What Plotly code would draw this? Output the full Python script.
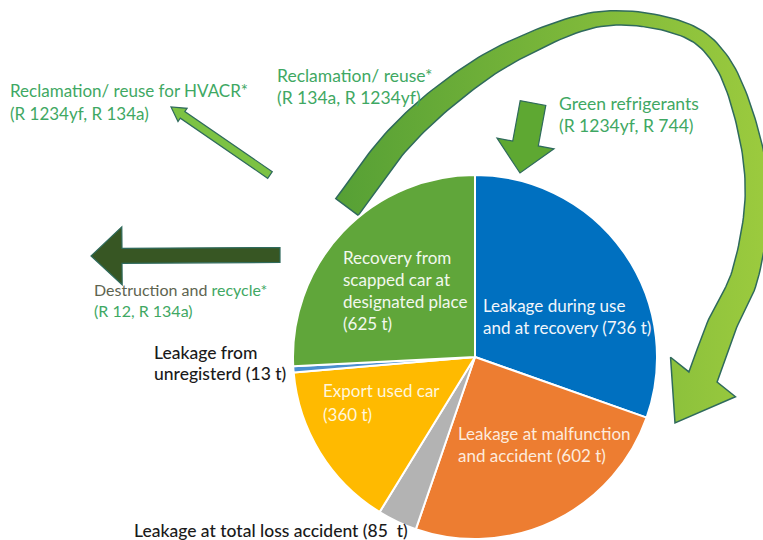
import numpy as np
import plotly.graph_objects as go

W, H = 763, 540

# ---------------- data ----------------
slice_names = ["Leakage during use and at recovery", "Leakage at malfunction and accident",
               "Leakage at total loss accident", "Export used car",
               "Leakage from unregisterd", "Recovery from scapped car at designated place"]
slice_values = [736, 602, 85, 360, 13, 625]
slice_colors = ["#0070C0", "#ED7D31", "#B3B3B3", "#FFBA00", "#4A8FD0", "#60A63A"]

flow_labels = ["Reclamation/ reuse for HVACR*", "Reclamation/ reuse*", "Green refrigerants",
               "Destruction and", "recycle*"]
flow_refrigerants = ["(R 1234yf, R 134a)", "(R 134a, R 1234yf)", "(R 1234yf, R 744)", "(R 12, R 134a)"]

FONT = "Lato"
GREEN_TXT = "#3FA863"
OUTLINE = "#2F6A5C"

fig = go.Figure()

# ---------------- pie ----------------
cx, cy, r = 475, 357, 182
fig.add_trace(go.Pie(
    labels=slice_names, values=slice_values, sort=False, direction="clockwise", rotation=0,
    marker=dict(colors=slice_colors, line=dict(color="white", width=2)),
    textinfo="none", hoverinfo="label+value", showlegend=False,
    domain=dict(x=[(cx - r) / W, (cx + r) / W], y=[(H - cy - r) / H, (H - cy + r) / H]),
))

# ---------------- curved arrow (geometry) ----------------
center = [(347, 207, 28), (395, 143, 27), (450, 92, 25), (515, 50, 21), (600, 19, 15),
          (680, 28, 14), (722, 62, 16), (748, 130, 20), (757, 200, 24), (745, 275, 27),
          (722, 325, 29), (703, 377, 30)]
head_tip = (675, 423)
head_half = 38


def catmull(points, n=16):
    P = np.array(points, float)
    P = np.vstack([2 * P[0] - P[1], P, 2 * P[-1] - P[-2]])
    out = []
    for i in range(1, len(P) - 2):
        p0, p1, p2, p3 = P[i - 1], P[i], P[i + 1], P[i + 2]
        for t in np.linspace(0, 1, n, endpoint=False):
            t2, t3 = t * t, t * t * t
            out.append(0.5 * ((2 * p1) + (-p0 + p2) * t + (2 * p0 - 5 * p1 + 4 * p2 - p3) * t2
                              + (-p0 + 3 * p1 - 3 * p2 + p3) * t3))
    out.append(P[-2])
    return np.array(out)


C = catmull(center)
xy, w = C[:, :2], C[:, 2]
tg = np.gradient(xy, axis=0)
tg /= np.linalg.norm(tg, axis=1)[:, None]
nrm = np.stack([-tg[:, 1], tg[:, 0]], axis=1)
left = xy + nrm * (w[:, None] / 2)
right = xy - nrm * (w[:, None] / 2)
E = xy[-1]
tip = np.array(head_tip, float)
d = (tip - E) / np.linalg.norm(tip - E)
nh = np.array([-d[1], d[0]])
poly = np.vstack([left, [E + nh * head_half], [tip], [E - nh * head_half], right[::-1], left[:1]])
fig.add_trace(go.Scatter(
    x=poly[:, 0], y=poly[:, 1], mode="lines", fill="toself",
    line=dict(color=OUTLINE, width=1.5),
    fillgradient=dict(type="horizontal", colorscale=[[0, "#56A035"], [1, "#9CCB3E"]]),
    hoverinfo="skip", showlegend=False,
))


# ---------------- straight arrows ----------------
def arrow_path(tail, tipp, sw, hw, hl):
    t = np.array(tail, float)
    p = np.array(tipp, float)
    dd = (p - t) / np.linalg.norm(p - t)
    n = np.array([-dd[1], dd[0]])
    b = p - dd * hl
    pts = [t + n * sw / 2, b + n * sw / 2, b + n * hw / 2, p, b - n * hw / 2, b - n * sw / 2, t - n * sw / 2]
    return "M " + " L ".join(f"{q[0]:.1f},{q[1]:.1f}" for q in pts) + " Z"


arrows = [
    dict(tail=(270, 175), tip=(171, 107), sw=8, hw=16, hl=14, fill="#7CC243"),
    dict(tail=(280, 255), tip=(91, 256), sw=15, hw=58, hl=31, fill="#375623"),
    dict(tail=(533, 103), tip=(520, 173), sw=26, hw=58, hl=30, fill="#5EA832"),
]
shapes = []
for a in arrows:
    shapes.append(dict(type="path", xref="x", yref="y", layer="above",
                       path=arrow_path(a["tail"], a["tip"], a["sw"], a["hw"], a["hl"]),
                       fillcolor=a["fill"], line=dict(color=OUTLINE, width=1.2)))

# ---------------- text ----------------
annotations = []


def add_text(x, ys, lines, size, color, weight="normal"):
    for yy, ln in zip(ys, lines):
        annotations.append(dict(x=x, y=yy, xref="x", yref="y", text=ln, showarrow=False,
                                xanchor="left", yanchor="middle",
                                font=dict(family=FONT, size=size, color=color, weight=weight)))


v = dict(zip(slice_names, slice_values))
add_text(8, [90, 113], [flow_labels[0], flow_refrigerants[0]], 17, GREEN_TXT)
add_text(275, [75, 97], [flow_labels[1], flow_refrigerants[1]], 17.5, GREEN_TXT)
add_text(557, [103, 125], [flow_labels[2], flow_refrigerants[2]], 17.5, GREEN_TXT)
add_text(92, [289, 310],
         [f"<span style='color:#5E6450'>{flow_labels[3]}</span> {flow_labels[4]}", flow_refrigerants[3]],
         16, GREEN_TXT)
add_text(152, [352, 373], ["Leakage from", f"unregisterd ({v['Leakage from unregisterd']} t)"],
         17.5, "#1A1A1A", 500)
add_text(132, [530], [f"Leakage at total loss accident ({v['Leakage at total loss accident']}  t)"],
         17.5, "#1A1A1A", 500)
add_text(341, [257, 279, 301, 323],
         ["Recovery from", "scapped car at", "designated place",
          f"({v['Recovery from scapped car at designated place']} t)"], 17, "#F2F8EE")
add_text(481, [305, 327],
         ["Leakage during use", f"and at recovery ({v['Leakage during use and at recovery']} t)"], 17, "#F2F6FB")
add_text(321, [390, 414], ["Export used car", f"({v['Export used car']} t)"], 17, "#FFF6DC")
add_text(456, [433, 455],
         ["Leakage at malfunction", f"and accident ({v['Leakage at malfunction and accident']} t)"], 17, "#FDEBDD")

fig.update_layout(
    width=W, height=H, margin=dict(l=0, r=0, t=0, b=0),
    paper_bgcolor="white", plot_bgcolor="rgba(0,0,0,0)",
    xaxis=dict(range=[0, W], visible=False, fixedrange=True, domain=[0, 1]),
    yaxis=dict(range=[H, 0], visible=False, fixedrange=True, domain=[0, 1]),
    shapes=shapes, annotations=annotations, showlegend=False,
)

fig.write_html("out.html", config={"displayModeBar": False},
               post_script="document.body.style.margin='0px';document.body.style.overflow='hidden';")
